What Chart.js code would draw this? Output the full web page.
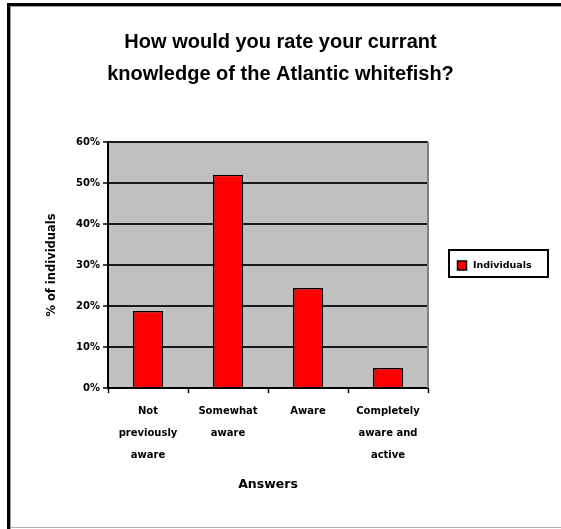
<!DOCTYPE html>
<html>
<head>
<meta charset="utf-8">
<script src="https://cdn.jsdelivr.net/npm/chart.js@4"></script>
<style>
  html, body { margin: 0; padding: 0; background: #fff; }
  canvas { display: block; }
</style>
</head>
<body>
<canvas id="chart" width="561" height="529"></canvas>
<script>
const answers = [
  ['Not', 'previously', 'aware'],
  ['Somewhat', 'aware'],
  ['Aware'],
  ['Completely', 'aware and', 'active']
];
const individuals = [18.8, 52, 24.4, 4.9];
const yTicks = [0, 10, 20, 30, 40, 50, 60];

const canvas = document.getElementById('chart');
const smallFont = '"DejaVu Sans", Verdana, sans-serif';
const titleFont = '"Liberation Sans", Arial, sans-serif';

// frame, grey plot area and boxed legend, the way the old spreadsheet drew them
const chartDecor = {
  id: 'chartDecor',
  beforeDraw(chart) {
    const ctx = chart.ctx;
    const a = chart.chartArea;
    ctx.save();
    ctx.fillStyle = '#c0c0c0';
    ctx.fillRect(a.left, a.top, a.right - a.left, a.bottom - a.top);
    ctx.restore();
  },
  afterDraw(chart) {
    const ctx = chart.ctx;
    const a = chart.chartArea;
    ctx.save();
    // outer frame
    ctx.fillStyle = '#000';
    ctx.fillRect(7, 3, 3, 526);
    ctx.fillRect(7, 3, 554, 3);
    ctx.fillStyle = '#9a9a9a';
    ctx.fillRect(10, 6, 1, 523);
    ctx.fillRect(10, 6, 551, 1);
    ctx.fillStyle = '#b0b0b0';
    ctx.fillRect(10, 527, 551, 1);
    // right edge of plot
    ctx.fillStyle = '#808080';
    ctx.fillRect(a.right - 1, a.top, 2, a.bottom - a.top);

    // legend
    const ds = chart.data.datasets[0];
    const bx = 449, by = 250, bw = 99, bh = 27;
    ctx.fillStyle = '#fff';
    ctx.fillRect(bx, by, bw, bh);
    ctx.strokeStyle = '#000';
    ctx.lineWidth = 2;
    ctx.strokeRect(bx, by, bw, bh);
    ctx.fillStyle = ds.backgroundColor;
    ctx.fillRect(457.5, 261, 9, 9);
    ctx.lineWidth = 1.5;
    ctx.strokeRect(457.5, 261, 9, 9);
    ctx.fillStyle = '#000';
    ctx.font = 'bold 9.5px ' + smallFont;
    ctx.textBaseline = 'middle';
    ctx.fillText(ds.label, 473, 265.5);
    ctx.restore();
  }
};

new Chart(canvas, {
  type: 'bar',
  data: {
    labels: answers,
    datasets: [{
      label: 'Individuals',
      data: individuals,
      backgroundColor: '#ff0000',
      borderColor: '#000',
      borderWidth: 1.5,
      categoryPercentage: 1,
      barPercentage: 0.375
    }]
  },
  options: {
    responsive: false,
    devicePixelRatio: 1,
    animation: false,
    layout: { padding: { left: 0, right: 0, top: 0, bottom: 31 } },
    plugins: {
      legend: { display: false },
      tooltip: { enabled: false },
      title: {
        display: true,
        text: ['How would you rate your currant', 'knowledge of the Atlantic whitefish?'],
        color: '#000',
        font: { family: titleFont, size: 20, weight: 'bold', lineHeight: 1.6 },
        padding: { top: 26, bottom: 52 }
      }
    },
    scales: {
      x: {
        offset: true,
        afterFit(s) { s.height = 110; },
        grid: {
          display: true,
          offset: true,
          drawOnChartArea: false,
          drawTicks: true,
          tickLength: 5,
          tickWidth: 1.5,
          tickColor: '#000'
        },
        border: { display: true, color: '#000', width: 2 },
        ticks: {
          color: '#000',
          padding: 7,
          maxRotation: 0,
          autoSkip: false,
          font: { family: smallFont, size: 10, weight: 'bold', lineHeight: 2.2 }
        },
        title: {
          display: true,
          text: 'Answers',
          color: '#000',
          font: { family: smallFont, size: 12.5, weight: 'bold', lineHeight: 1.1 },
          padding: { top: 0, bottom: 6 }
        }
      },
      y: {
        min: 0,
        max: 60,
        afterFit(s) { s.width = 108; },
        afterBuildTicks(s) { s.ticks = yTicks.map(v => ({ value: v })); },
        grid: {
          color: '#1a1a1a',
          lineWidth: 2,
          tickLength: 5,
          tickColor: '#000',
          tickWidth: 1.5
        },
        border: { display: true, color: '#000', width: 2 },
        ticks: {
          color: '#000',
          padding: 3,
          font: { family: smallFont, size: 10, weight: 'bold' },
          callback: v => v + '%'
        },
        title: {
          display: true,
          text: '% of individuals',
          color: '#000',
          font: { family: smallFont, size: 11.5, weight: 'bold', lineHeight: 1.2 },
          padding: { top: 45, bottom: 0 }
        }
      },
      // empty strip on the right that keeps room for the legend box
      side: {
        position: 'right',
        display: true,
        afterFit(s) { s.width = 133; },
        grid: { display: false, drawOnChartArea: false },
        border: { display: false },
        ticks: { display: false }
      }
    }
  },
  plugins: [chartDecor]
});
</script>
</body>
</html>
